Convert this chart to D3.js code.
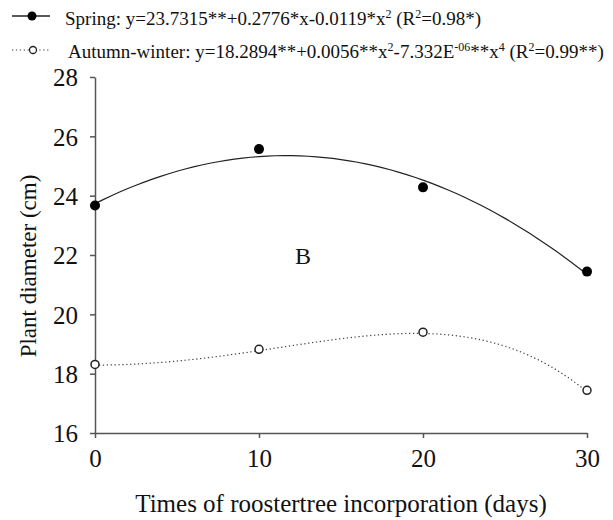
<!DOCTYPE html>
<html><head><meta charset="utf-8">
<script src="https://cdn.jsdelivr.net/npm/d3@7"></script>
<style>body{margin:0;background:#fff}svg{display:block}text{font-family:"Liberation Serif","Times New Roman",serif;fill:#111}</style>
</head><body><svg id="c" width="613" height="520"></svg>
<script>
// Data
const days = [0, 10, 20, 30];
const springValues = [23.67, 25.57, 24.28, 21.44];
const autumnValues = [18.31, 18.82, 19.40, 17.44];
const xTicks = [0, 10, 20, 30];
const yTicks = [16, 18, 20, 22, 24, 26, 28];
// Regression coefficients stated in the legend: [c0, c1, c2, c3, c4]
const springCoef = [23.7315, 0.2776, -0.0119, 0, 0];
const autumnCoef = [18.2894, 0, 0.0056, 0, -7.332e-6];
const curveX = d3.range(0, 30.01, 0.5);

const svg = d3.select("#c");
const x = d3.scaleLinear().domain([0, 30]).range([95, 587]);
const y = d3.scaleLinear().domain([16, 28]).range([433, 77]);
const poly = (c, t) => c.reduce((s, a, i) => s + a * Math.pow(t, i), 0);

// Axes
const ax = svg.append("g").attr("transform", "translate(0,433)")
  .call(d3.axisBottom(x).tickValues(xTicks).tickSize(5).tickSizeOuter(0).tickPadding(11));
const ay = svg.append("g").attr("transform", "translate(95,0)")
  .call(d3.axisLeft(y).tickValues(yTicks).tickSize(5).tickSizeOuter(0).tickPadding(12));
[ax, ay].forEach(g => {
  g.selectAll("path,line").attr("stroke", "#555").attr("stroke-width", 1.5);
  g.selectAll("text").attr("font-size", 25).attr("fill", "#111");
});
ay.selectAll("text").attr("dy", "0.35em");
ax.selectAll("text").attr("dy", "0.72em");

// Curves
const line = d3.line().x(d => x(d[0])).y(d => y(d[1]));
svg.append("path").datum(curveX.map(t => [t, poly(springCoef, t)]))
  .attr("d", line).attr("fill", "none").attr("stroke", "#222").attr("stroke-width", 1.2);
svg.append("path").datum(curveX.map(t => [t, poly(autumnCoef, t)]))
  .attr("d", line).attr("fill", "none").attr("stroke", "#444").attr("stroke-width", 1.2)
  .attr("stroke-dasharray", "1.3,2.6");

// Points
svg.selectAll(".sp").data(days).enter().append("circle")
  .attr("cx", d => x(d)).attr("cy", (d, i) => y(springValues[i])).attr("r", 5).attr("fill", "#000");
svg.selectAll(".au").data(days).enter().append("circle")
  .attr("cx", d => x(d)).attr("cy", (d, i) => y(autumnValues[i])).attr("r", 4)
  .attr("fill", "#fff").attr("stroke", "#222").attr("stroke-width", 1.5);

// Panel letter
svg.append("text").attr("x", 303).attr("y", 264).attr("text-anchor", "middle").attr("font-size", 24).text("B");

// Axis titles
svg.append("text").attr("x", 341).attr("y", 512).attr("text-anchor", "middle").attr("font-size", 25)
  .text("Times of roostertree incorporation (days)");
svg.append("text").attr("transform", "translate(36,266) rotate(-90)").attr("text-anchor", "middle")
  .attr("font-size", 23).text("Plant diameter (cm)");

// Legend
function rich(t, parts) {
  parts.forEach(p => {
    if (p.sup) t.append("tspan").attr("baseline-shift", "super").attr("font-size", 12).text(p.sup);
    else t.append("tspan").text(p.t);
  });
}
const lg = svg.append("g");
lg.append("line").attr("x1", 12).attr("x2", 50).attr("y1", 16).attr("y2", 16).attr("stroke", "#222").attr("stroke-width", 1.5);
lg.append("circle").attr("cx", 32).attr("cy", 16).attr("r", 4.5).attr("fill", "#000");
const t1 = lg.append("text").attr("x", 65).attr("y", 25).attr("font-size", 19);
rich(t1, [{t: "Spring: y=23.7315**+0.2776*x-0.0119*x"}, {sup: "2"}, {t: " (R"}, {sup: "2"}, {t: "=0.98*)"}]);
lg.append("line").attr("x1", 12).attr("x2", 50).attr("y1", 50).attr("y2", 50).attr("stroke", "#444").attr("stroke-width", 1.2).attr("stroke-dasharray", "1.3,2.6");
lg.append("circle").attr("cx", 33).attr("cy", 50).attr("r", 3.5).attr("fill", "#fff").attr("stroke", "#222").attr("stroke-width", 1.3);
const t2 = lg.append("text").attr("x", 68).attr("y", 58).attr("font-size", 19);
rich(t2, [{t: "Autumn-winter: y=18.2894**+0.0056**x"}, {sup: "2"}, {t: "-7.332E"}, {sup: "-06"}, {t: "**x"}, {sup: "4"}, {t: " (R"}, {sup: "2"}, {t: "=0.99**)"}]);
</script></body></html>
